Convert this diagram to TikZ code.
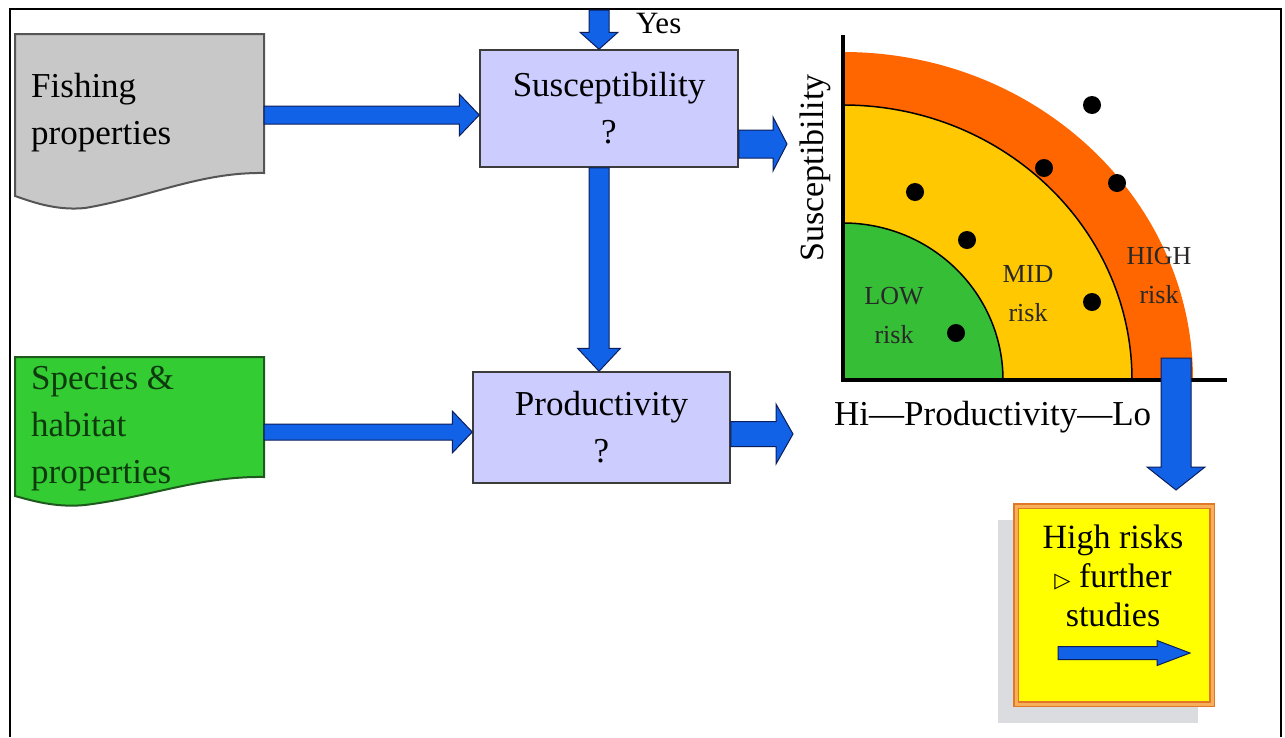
\documentclass[tikz,border=0pt]{standalone}
\usepackage{fontspec}
\setmainfont{Liberation Serif}
\newfontfamily\dejavu{DejaVu Sans}
\usetikzlibrary{calc}
\definecolor{arrowblue}{RGB}{18,98,232}
\definecolor{arrowedge}{RGB}{12,30,90}
\definecolor{docgray}{RGB}{200,200,200}
\definecolor{docedge}{RGB}{85,85,85}
\definecolor{docgreen}{RGB}{51,204,51}
\definecolor{docgreenedge}{RGB}{30,90,30}
\definecolor{greentext}{RGB}{14,58,14}
\definecolor{lav}{RGB}{204,204,255}
\definecolor{boxedge}{RGB}{60,60,60}
\definecolor{riskorange}{RGB}{255,102,0}
\definecolor{riskyellow}{RGB}{255,200,0}
\definecolor{riskgreen}{RGB}{55,190,55}
\definecolor{hryellow}{RGB}{255,255,0}
\definecolor{hredge}{RGB}{225,120,40}
\definecolor{hrband}{RGB}{248,175,90}
\definecolor{shadowgray}{RGB}{218,220,224}
\definecolor{textdark}{RGB}{40,40,40}
\newcommand\fsz[2]{\fontsize{#1}{#2}\selectfont}
% horizontal block arrow pointing right: from, to, shaft half, head half, head length
\newcommand\harrow[5]{\draw[blockarrow] let \p1=#1, \p2=#2 in (\x1,\y1+#3) -- (\x2-#5,\y1+#3) -- (\x2-#5,\y1+#4) -- (\x2,\y1) -- (\x2-#5,\y1-#4) -- (\x2-#5,\y1-#3) -- (\x1,\y1-#3) -- cycle;}
% vertical block arrow pointing down
\newcommand\varrow[5]{\draw[blockarrow] let \p1=#1, \p2=#2 in (\x1-#3,\y1) -- (\x1-#3,\y2+#5) -- (\x1-#4,\y2+#5) -- (\x1,\y2) -- (\x1+#4,\y2+#5) -- (\x1+#3,\y2+#5) -- (\x1+#3,\y1) -- cycle;}
\begin{document}
\begin{tikzpicture}[x=1pt, y=-1pt,
  blockarrow/.style={fill=arrowblue, draw=arrowedge, line width=1pt, line join=miter},
  docshape/.style={line width=2pt},
  qbox/.style={rectangle, fill=lav, draw=boxedge, line width=1.5pt, align=center, font=\fsz{35}{47}, inner sep=0pt},
  lbl/.style={font=\fsz{35}{47}, align=left, inner sep=0pt, anchor=north west},
  risklbl/.style={font=\fsz{26}{39}, align=center, text=textdark, inner sep=0pt, anchor=north},
  dot/.style={fill=black}]
\useasboundingbox (0,0) rectangle (1285,737);
\fill[white] (0,0) rectangle (1285,737);
% frame
\draw[line width=2pt] (10,737) -- (10,9) -- (1281,9) -- (1281,737);

% document shapes
\draw[docshape, fill=docgray, draw=docedge] (15,34) -- (264,34) -- (264,173)
  .. controls (200,172) and (150,197) .. (85,208) .. controls (55,211) and (30,201) .. (15,196) -- cycle;
\node[lbl] (fish) at (31,73) {Fishing\\properties};
\coordinate (fishout) at (264,115);

\draw[docshape, fill=docgreen, draw=docgreenedge] (15,357) -- (264,357) -- (264,477)
  .. controls (200,476) and (150,497) .. (85,505) .. controls (55,508) and (30,500) .. (15,496) -- cycle;
\node[lbl, text=greentext] (spec) at (31,366) {Species \&\\habitat\\properties};
\coordinate (specout) at (264,432);

% question boxes
\node[qbox, minimum width=258pt, minimum height=117pt] (susc) at (609,108.5) {Susceptibility\\?};
\node[qbox, minimum width=257pt, minimum height=111pt] (prod) at (601.5,427.5) {Productivity\\?};

% Yes arrow
\coordinate (yestop) at (599,10);
\varrow{(yestop)}{(susc.north -| yestop)}{10pt}{19pt}{17pt}
\node[anchor=base west, font=\fsz{31}{36}, inner sep=0pt] (yes) at (636,33) {Yes};

% arrows between boxes
\varrow{(susc.south -| yestop)}{(prod.north -| yestop)}{10pt}{21.5pt}{23pt}
\harrow{(fishout)}{(susc.west |- fishout)}{9pt}{21pt}{20pt}
\harrow{(specout)}{(prod.west |- specout)}{8pt}{21pt}{20pt}
\coordinate (chartin1) at (787,144);
\coordinate (chartin2) at (793,434);
\harrow{(susc.east |- chartin1)}{(chartin1)}{14pt}{27pt}{14pt}
\harrow{(prod.east |- chartin2)}{(chartin2)}{12.5pt}{30pt}{17pt}

% risk chart
\coordinate (O) at (843,380);
\fill[riskorange] (O) -- ++(350,0) arc[start angle=0, end angle=90, x radius=350pt, y radius=328pt] -- cycle;
\draw[fill=riskyellow, line width=1.5pt] (O) -- ++(289,0) arc[start angle=0, end angle=90, x radius=289pt, y radius=275pt] -- cycle;
\draw[fill=riskgreen, line width=1.5pt] (O) -- ++(160,0) arc[start angle=0, end angle=90, x radius=160pt, y radius=157pt] -- cycle;
\draw[line width=4pt] (843,35) -- (843,382);
\draw[line width=4pt] (841,380) -- (1227,380);
\foreach \p in {(1092,105),(1044,168),(1117,183),(915,192),(967,240),(1092,302),(956,333)}
  \fill[dot] \p circle[radius=9pt];
\node[risklbl] (low) at (894,287.5) {LOW\\risk};
\node[risklbl] (mid) at (1028,265.5) {MID\\risk};
\node[risklbl] (high) at (1159,247.5) {HIGH\\risk};
\node[rotate=90, font=\fsz{34}{40}, inner sep=0pt] (ylab) at (815,168) {Susceptibility};
\node[anchor=base west, font=\fsz{35}{40}, inner sep=0pt] (xlab) at (834,425) {Hi—Productivity—Lo};

% high risk box
\fill[shadowgray] (998,520) rectangle (1198,723);
\node[rectangle, fill=hryellow, draw=hredge, double=hrband, double distance=3pt, line width=1.5pt,
  minimum width=196pt, minimum height=198pt, inner sep=0pt] (hr) at (1114,605) {};
\fill[hryellow] ([xshift=4pt,yshift=-4pt]hr.north west) rectangle ([xshift=-4pt,yshift=4pt]hr.south east);
\node[font=\fsz{34}{39}, align=center, inner sep=0pt, anchor=north] (hrtext) at (1113,525)
  {High risks\\{\dejavu\fsz{21}{39}▷} further\\studies};
\coordinate (chartout) at (1176,358);
\coordinate (hrin) at (1176,490);
\varrow{(chartout)}{(hrin)}{15pt}{29pt}{23pt}
\coordinate (sa1) at (1058,653);
\coordinate (sa2) at (1190,653);
\harrow{(sa1)}{(sa2)}{6.5pt}{12.5pt}{33pt}
\end{tikzpicture}
\end{document}
